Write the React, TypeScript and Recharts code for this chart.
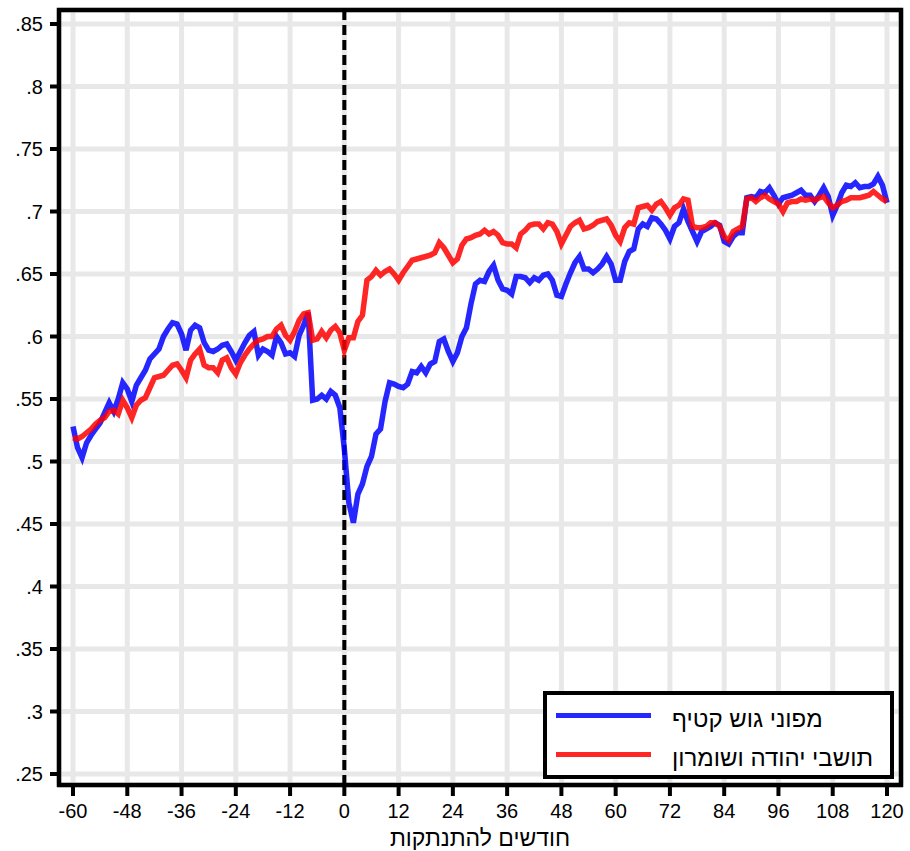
import React from "react";
import {
  LineChart,
  Line,
  XAxis,
  YAxis,
  CartesianGrid,
  ReferenceLine,
  ReferenceArea,
} from "recharts";

// months relative to the disengagement (-60 .. 120)
const months: number[] = Array.from({ length: 181 }, (_, i) => i - 60);

const evacuees = [
  0.528, 0.511, 0.503, 0.515, 0.521, 0.526, 0.531, 0.539, 0.547, 0.540, 0.550, 0.563,
  0.558, 0.548, 0.561, 0.567, 0.573, 0.582, 0.586, 0.590, 0.600, 0.606, 0.611, 0.610,
  0.602, 0.589, 0.605, 0.609, 0.607, 0.595, 0.589, 0.588, 0.590, 0.593, 0.594, 0.588,
  0.581, 0.588, 0.595, 0.601, 0.604, 0.585, 0.590, 0.588, 0.585, 0.600, 0.595, 0.586,
  0.587, 0.584, 0.601, 0.609, 0.619, 0.549, 0.550, 0.553, 0.550, 0.556, 0.553, 0.543,
  0.510, 0.467, 0.451, 0.474, 0.482, 0.496, 0.504, 0.522, 0.526, 0.548, 0.563, 0.562,
  0.560, 0.559, 0.562, 0.572, 0.571, 0.576, 0.571, 0.578, 0.580, 0.596, 0.598, 0.588,
  0.580, 0.587, 0.600, 0.607, 0.626, 0.642, 0.645, 0.644, 0.652, 0.657, 0.645, 0.638,
  0.637, 0.634, 0.648, 0.648, 0.647, 0.643, 0.647, 0.645, 0.649, 0.650, 0.645, 0.633,
  0.632, 0.642, 0.651, 0.659, 0.664, 0.654, 0.654, 0.651, 0.654, 0.658, 0.664, 0.658,
  0.645, 0.645, 0.660, 0.668, 0.670, 0.686, 0.690, 0.688, 0.695, 0.694, 0.690, 0.685,
  0.678, 0.688, 0.691, 0.702, 0.692, 0.684, 0.676, 0.684, 0.686, 0.688, 0.691, 0.689,
  0.676, 0.674, 0.680, 0.683, 0.683, 0.711, 0.712, 0.711, 0.716, 0.715, 0.719, 0.713,
  0.706, 0.711, 0.712, 0.713, 0.715, 0.717, 0.713, 0.713, 0.708, 0.713, 0.719, 0.712,
  0.697, 0.705, 0.715, 0.721, 0.720, 0.723, 0.719, 0.720, 0.720, 0.722, 0.728, 0.721,
  0.707,
];

const settlers = [
  0.519, 0.518, 0.520, 0.523, 0.526, 0.530, 0.533, 0.535, 0.540, 0.541, 0.538, 0.549,
  0.543, 0.535, 0.545, 0.549, 0.551, 0.559, 0.567, 0.568, 0.569, 0.573, 0.577, 0.578,
  0.573, 0.567, 0.581, 0.586, 0.590, 0.577, 0.575, 0.575, 0.571, 0.581, 0.583, 0.575,
  0.570, 0.579, 0.585, 0.590, 0.594, 0.597, 0.598, 0.600, 0.600, 0.606, 0.609, 0.601,
  0.597, 0.604, 0.613, 0.618, 0.619, 0.597, 0.598, 0.604, 0.599, 0.605, 0.608, 0.603,
  0.589, 0.599, 0.599, 0.612, 0.617, 0.645, 0.648, 0.653, 0.649, 0.652, 0.654, 0.650,
  0.645, 0.651, 0.656, 0.661, 0.662, 0.663, 0.664, 0.665, 0.667, 0.675, 0.671, 0.665,
  0.659, 0.662, 0.673, 0.678, 0.679, 0.681, 0.682, 0.685, 0.682, 0.684, 0.681, 0.675,
  0.674, 0.674, 0.671, 0.682, 0.685, 0.689, 0.690, 0.690, 0.686, 0.691, 0.690, 0.684,
  0.674, 0.681, 0.688, 0.691, 0.693, 0.686, 0.687, 0.689, 0.692, 0.693, 0.694, 0.689,
  0.681, 0.676, 0.687, 0.691, 0.690, 0.703, 0.704, 0.705, 0.701, 0.706, 0.708, 0.703,
  0.697, 0.703, 0.705, 0.710, 0.709, 0.688, 0.687, 0.687, 0.688, 0.691, 0.691, 0.688,
  0.680, 0.677, 0.684, 0.686, 0.688, 0.710, 0.711, 0.708, 0.711, 0.713, 0.710, 0.708,
  0.706, 0.700, 0.707, 0.708, 0.708, 0.710, 0.709, 0.710, 0.709, 0.711, 0.712, 0.707,
  0.703, 0.705, 0.708, 0.709, 0.711, 0.711, 0.711, 0.712, 0.713, 0.716, 0.713, 0.710,
  0.708,
];

const xTicks = [-60, -48, -36, -24, -12, 0, 12, 24, 36, 48, 60, 72, 84, 96, 108, 120];
const yTicks = [0.25, 0.3, 0.35, 0.4, 0.45, 0.5, 0.55, 0.6, 0.65, 0.7, 0.75, 0.8, 0.85];

const seriesNames = ["מפוני גוש קטיף", "תושבי יהודה ושומרון"];
const seriesColors = ["#0000ff", "#ff0000"];
const xTitle = "חודשים להתנתקות";

const data = months.map((m, i) => ({ month: m, evacuees: evacuees[i], settlers: settlers[i] }));

const X_DOMAIN: [number, number] = [-63.1, 123.1];
const Y_DOMAIN: [number, number] = [0.2412, 0.8612];

const FONT = "'Liberation Sans', Arial, Helvetica, sans-serif";

const fmtY = (v: number) => v.toFixed(2).replace(/^0/, "").replace(/0$/, "");

function LegendBox() {
  return (
    <div
      style={{
        position: "absolute",
        left: 543,
        top: 691,
        width: 351,
        height: 88,
        boxSizing: "border-box",
        border: "4px solid #000",
        background: "#fff",
        fontFamily: FONT,
      }}
    >
      {seriesNames.map((name, i) => (
        <React.Fragment key={name}>
          <div
            style={{
              position: "absolute",
              left: 9,
              top: 18 + i * 39,
              width: 95,
              height: 5,
              background: seriesColors[i],
              opacity: 0.85,
            }}
          />
          <span
            dir="rtl"
            style={{
              position: "absolute",
              left: 125,
              top: 10 + i * 39,
              fontSize: 24,
              lineHeight: "28px",
              color: "#000",
              whiteSpace: "nowrap",
            }}
          >
            {name}
          </span>
        </React.Fragment>
      ))}
    </div>
  );
}

export default function App() {
  return (
    <div style={{ position: "absolute", left: 0, top: 0, width: 910, height: 851, background: "#fff" }}>
      <LineChart
        width={910}
        height={851}
        data={data}
        margin={{ top: 10, right: 9, bottom: 0, left: 0 }}
      >
        <CartesianGrid stroke="#e8e8e8" strokeWidth={5} />
        <XAxis
          dataKey="month"
          type="number"
          domain={X_DOMAIN}
          ticks={xTicks}
          allowDataOverflow
          height={66}
          axisLine={false}
          tickLine={{ stroke: "#000", strokeWidth: 4 }}
          tickSize={11}
          tickMargin={8}
          tick={{ fill: "#000", fontSize: 20, fontFamily: FONT }}
        />
        <YAxis
          type="number"
          domain={Y_DOMAIN}
          ticks={yTicks}
          allowDataOverflow
          width={59}
          axisLine={false}
          tickLine={{ stroke: "#000", strokeWidth: 4 }}
          tickSize={9}
          tickMargin={7}
          tickFormatter={fmtY}
          tick={{ fill: "#000", fontSize: 20, fontFamily: FONT }}
        />
        <ReferenceLine x={0} stroke="#000" strokeWidth={4} strokeDasharray="10 5" />
        <Line
          dataKey="evacuees"
          name={seriesNames[0]}
          stroke={seriesColors[0]}
          strokeOpacity={0.85}
          strokeWidth={5.5}
          dot={false}
          type="linear"
          isAnimationActive={false}
        />
        <Line
          dataKey="settlers"
          name={seriesNames[1]}
          stroke={seriesColors[1]}
          strokeOpacity={0.85}
          strokeWidth={5.5}
          dot={false}
          type="linear"
          isAnimationActive={false}
        />
        <ReferenceArea
          x1={X_DOMAIN[0]}
          x2={X_DOMAIN[1]}
          y1={Y_DOMAIN[0]}
          y2={Y_DOMAIN[1]}
          fill="none"
          stroke="#000"
          strokeWidth={4.5}
          ifOverflow="visible"
        />
      </LineChart>
      <LegendBox />
      <div
        dir="rtl"
        style={{
          position: "absolute",
          left: 280,
          width: 400,
          top: 824,
          textAlign: "center",
          fontFamily: FONT,
          fontSize: 23,
          lineHeight: "28px",
          color: "#000",
        }}
      >
        {xTitle}
      </div>
    </div>
  );
}
